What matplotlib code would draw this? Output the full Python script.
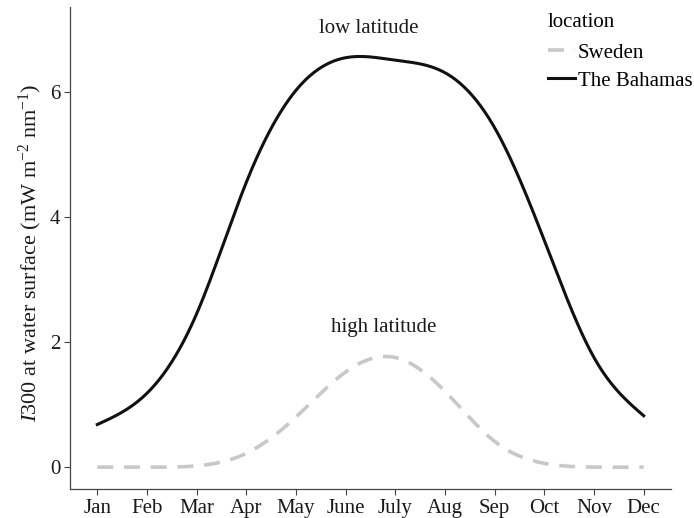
import numpy as np
import matplotlib
matplotlib.use("Agg")
import matplotlib.pyplot as plt
from matplotlib.lines import Line2D

months = ["Jan", "Feb", "Mar", "Apr", "May", "June", "July", "Aug", "Sep", "Oct", "Nov", "Dec"]
bahamas = [0.68, 1.18, 2.45, 4.55, 6.02, 6.54, 6.50, 6.30, 5.42, 3.62, 1.75, 0.82]
sweden = [0.0, 0.0, 0.02, 0.22, 0.80, 1.52, 1.75, 1.21, 0.41, 0.06, 0.0, 0.0]
yticks = [0, 2, 4, 6]
series_names = ["Sweden", "The Bahamas"]
annotations = [("low latitude", 6.46, 7.0), ("high latitude", 6.77, 2.23)]

plt.rcParams["font.family"] = ["Liberation Serif", "DejaVu Serif"]
plt.rcParams["mathtext.fontset"] = "custom"
plt.rcParams["mathtext.rm"] = "Liberation Serif"
plt.rcParams["mathtext.it"] = "Liberation Serif:italic"


def natural_spline(x, y, xs):
    x = np.asarray(x, float)
    y = np.asarray(y, float)
    n = len(x)
    h = np.diff(x)
    A = np.zeros((n, n))
    b = np.zeros(n)
    A[0, 0] = A[-1, -1] = 1
    for i in range(1, n - 1):
        A[i, i - 1] = h[i - 1]
        A[i, i] = 2 * (h[i - 1] + h[i])
        A[i, i + 1] = h[i]
        b[i] = 3 * ((y[i + 1] - y[i]) / h[i] - (y[i] - y[i - 1]) / h[i - 1])
    c = np.linalg.solve(A, b)
    bb = (y[1:] - y[:-1]) / h - h * (2 * c[:-1] + c[1:]) / 3
    d = (c[1:] - c[:-1]) / (3 * h)
    idx = np.clip(np.searchsorted(x, xs) - 1, 0, n - 2)
    dx = xs - x[idx]
    return y[idx] + bb[idx] * dx + c[idx] * dx ** 2 + d[idx] * dx ** 3


W, H = 694, 518
fig = plt.figure(figsize=(W / 100, H / 100), dpi=100)
ax = fig.add_axes([70 / W, 1 - 489 / H, (671 - 70) / W, (489 - 7) / H])

x = np.arange(1, 13)
xs = np.linspace(1, 12, 400)

grey = "#c8c8c8"
dash = (0, (4.4, 3.0))
ax.plot(xs, natural_spline(x, sweden, xs), color=grey, lw=2.6,
        linestyle=dash, dash_capstyle="butt")
ax.plot(xs, natural_spline(x, bahamas, xs), color="#111111", lw=2.2)

for txt, xx, yy in annotations:
    ax.text(xx, yy, txt, ha="center", va="center", fontsize=15, color="#1a1a1a")

ax.set_xlim(1 - 0.55, 12 + 0.55)
ax.set_ylim(-0.35, 7.35)
ax.set_xticks(x)
ax.set_xticklabels(months)
ax.set_yticks(yticks)
ax.tick_params(axis="both", labelsize=15, length=4, width=0.8, color="#444444",
               labelcolor="#1a1a1a", pad=3)
for s in ["top", "right"]:
    ax.spines[s].set_visible(False)
for s in ["left", "bottom"]:
    ax.spines[s].set_color("#444444")
    ax.spines[s].set_linewidth(0.9)

ax.set_ylabel(r"$I$300 at water surface (mW m$^{-2}$ nm$^{-1}$)", fontsize=16,
              color="#1a1a1a", labelpad=4, y=0.49)

handles = [Line2D([], [], color=grey, lw=2.6, linestyle=dash, dash_capstyle="butt"),
           Line2D([], [], color="#111111", lw=2.2)]
leg = fig.legend(handles, series_names, title="location", loc="upper left",
                 bbox_to_anchor=(548 / W, 1 - 13 / H), frameon=False, fontsize=15,
                 title_fontsize=15, handlelength=1.3, handletextpad=0.12,
                 borderpad=0, borderaxespad=0, labelspacing=0.4)
leg._legend_box.align = "left"
leg._legend_box.sep = 8

fig.savefig("out.png", dpi=100)
